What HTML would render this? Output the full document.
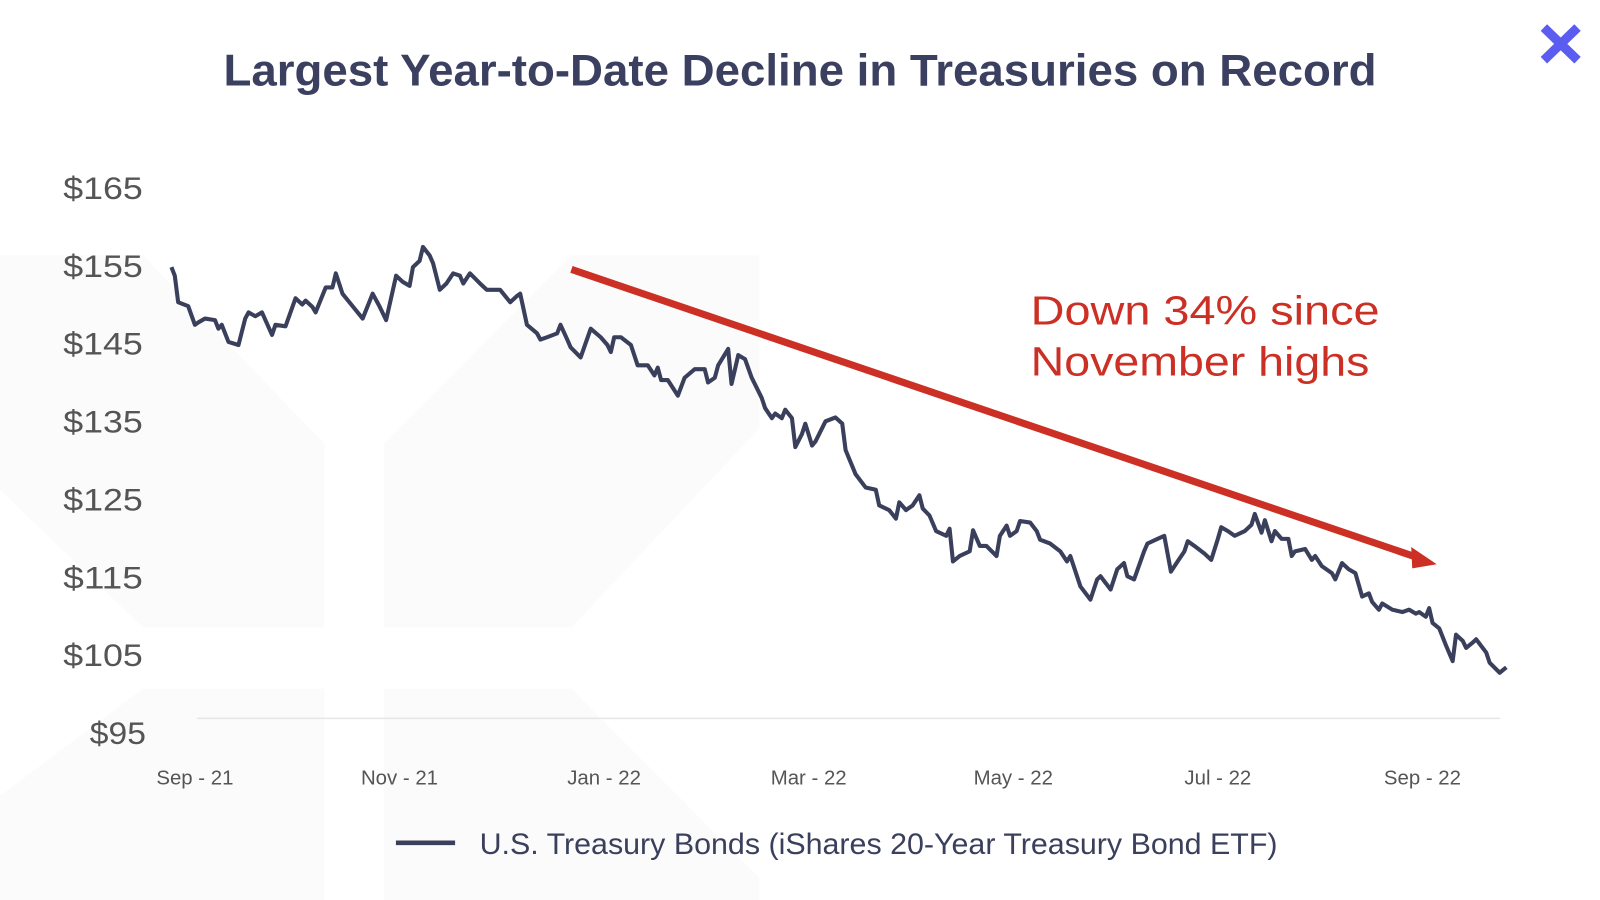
<!DOCTYPE html>
<html><head><meta charset="utf-8"><style>
html,body{margin:0;padding:0;background:#fff;}
svg{display:block;font-family:"Liberation Sans",sans-serif;}
</style></head><body>
<svg id="chart" width="1600" height="900" viewBox="0 0 1568 882" preserveAspectRatio="none" xmlns="http://www.w3.org/2000/svg">
<g fill="#fbfbfb">
<polygon points="0,250 140,250 318,435 318,615 140,615 0,480"/>
<polygon points="376,435 560,250 744,250 744,420 560,615 376,615"/>
<polygon points="0,780 140,675 318,675 318,882 0,882"/>
<polygon points="376,675 560,675 744,860 744,882 376,882"/>
</g>
<text x="784" y="84" text-anchor="middle" font-size="44" font-weight="600" fill="#3b4060" textLength="1130" lengthAdjust="spacingAndGlyphs">Largest Year-to-Date Decline in Treasuries on Record</text>
<g stroke="#5b5cf0" stroke-width="9">
<line x1="1513" y1="27" x2="1546" y2="59"/><line x1="1546" y1="27" x2="1513" y2="59"/>
</g>
<line x1="193" y1="704" x2="1470" y2="704" stroke="#e6e6e6" stroke-width="1.5"/>
<g id="yaxis"></g>
<g id="xaxis"></g>
<path id="series" fill="none" stroke="#3a3f5c" stroke-width="4" stroke-linejoin="round"/>
<g>
<line x1="560" y1="264" x2="1388" y2="546" stroke="#cc3025" stroke-width="7"/>
<polygon points="1408,553 1383,536 1384,557" fill="#cc3025"/>
</g>
<text font-size="40" fill="#cc3025"><tspan x="1010" y="318" textLength="342" lengthAdjust="spacingAndGlyphs">Down 34% since</tspan><tspan x="1010" y="368" textLength="332" lengthAdjust="spacingAndGlyphs">November highs</tspan></text>
<g>
<line x1="388" y1="826" x2="446" y2="826" stroke="#3a3f5c" stroke-width="4.5"/>
<text x="470" y="837" font-size="29" fill="#3a3f5c" textLength="782" lengthAdjust="spacingAndGlyphs">U.S. Treasury Bonds (iShares 20-Year Treasury Bond ETF)</text>
</g>
</svg>
<script>
const days=[0,1,2,5,7,8,10,13,14,15,17,20,22,23,25,27,30,31,34,37,39,40,42,43,46,48,49,51,54,57,60,62,64,67,69,71,72,74,75,77,78,80,82,84,86,87,89,92,94,98,101,103,104,106,109,110,112,115,116,118,119,122,125,128,130,131,132,134,137,139,142,144,145,146,148,151,153,156,159,160,162,163,166,167,169,171,173,176,177,179,180,182,183,185,186,188,189,191,192,195,198,200,201,204,207,210,211,214,216,217,219,221,223,224,226,228,231,232,233,235,238,239,241,243,246,247,249,250,252,253,256,258,259,262,265,267,268,271,274,276,277,280,282,284,285,287,290,291,294,296,298,300,302,303,305,308,310,312,313,315,317,319,320,322,323,325,326,328,329,331,333,334,335,338,340,341,343,346,347,349,351,353,355,357,358,360,361,364,367,369,371,372,374,375,376,378,380,382,383,385,386,388,389,392,393,396,398];
const prices=[154.8,153.7,150.3,149.8,147.4,147.7,148.2,148.0,146.9,147.4,145.2,144.8,148.2,149.0,148.5,149.0,146.1,147.4,147.2,150.8,150.0,150.5,149.7,149.0,152.2,152.2,154.0,151.4,149.8,148.2,151.4,149.8,148.0,153.7,152.9,152.4,154.8,155.6,157.4,156.3,155.3,151.9,152.7,154.0,153.7,152.7,154.0,152.7,151.9,151.9,150.3,151.1,151.4,147.4,146.3,145.5,145.8,146.3,147.4,145.5,144.5,143.2,146.9,145.8,144.8,143.9,145.8,145.8,144.8,142.2,142.2,140.9,141.9,140.3,140.3,138.3,140.6,141.7,141.7,140.0,140.6,142.2,144.3,139.8,143.5,143.0,140.6,138.0,136.7,135.4,136.0,135.4,136.5,135.4,131.7,133.4,134.7,131.9,132.4,135.0,135.5,134.7,131.3,128.2,126.5,126.2,124.2,123.6,122.5,124.6,123.6,124.2,125.5,123.8,122.9,120.9,120.3,121.2,117.0,117.7,118.3,121.0,119.0,119.0,117.7,120.3,121.6,120.3,120.9,122.2,122.0,120.9,119.8,119.3,118.3,117.0,117.7,113.8,112.1,114.7,115.1,113.4,116.0,116.8,115.1,114.7,118.3,119.3,119.9,120.3,115.7,117.0,118.3,119.6,119.0,118.0,117.2,119.9,121.4,120.9,120.3,120.7,120.9,121.7,123.1,120.7,122.3,119.6,120.9,119.9,119.9,117.7,118.3,118.6,117.2,117.7,116.4,115.5,114.7,116.8,116.0,115.5,112.5,112.9,111.8,110.8,111.6,110.8,110.5,110.8,110.3,110.5,109.9,111.0,109.1,108.4,106.2,104.2,107.6,106.8,105.9,106.6,107.0,105.3,104.0,102.7,103.4];
const yTicks=[165,155,145,135,125,115,105,95];
const xLabels=["Sep - 21","Nov - 21","Jan - 22","Mar - 22","May - 22","Jul - 22","Sep - 22"];
const NS="http://www.w3.org/2000/svg";
function xScale(d){return 168+d*3.287;}
function yScale(v){return 184+(165-v)*7.63;}
const ya=document.getElementById('yaxis');
yTicks.forEach((t)=>{
  const el=document.createElementNS(NS,'text');
  
  
  const lbl='$'+t;
  const w=lbl.length===4?78:55;
  el.setAttribute('x', t===95?88:62);
  el.setAttribute('y', yScale(t)+11);
  el.setAttribute('font-size','31');
  el.setAttribute('fill','#555');
  el.setAttribute('textLength', w);
  el.setAttribute('lengthAdjust','spacingAndGlyphs');
  el.textContent=lbl;
  ya.appendChild(el);
});
const xa=document.getElementById('xaxis');
xLabels.forEach((l,i)=>{
  const el=document.createElementNS(NS,'text');
  
  
  el.setAttribute('x',191+i*200.5);
  el.setAttribute('y',769);
  el.setAttribute('text-anchor','middle');
  el.setAttribute('font-size','20');
  el.setAttribute('fill','#555');
  el.textContent=l;
  xa.appendChild(el);
});
let d='';
prices.forEach((p,i)=>{d+=(i?'L':'M')+xScale(days[i]).toFixed(1)+','+yScale(p).toFixed(1);});
document.getElementById('series').setAttribute('d',d);
</script>
</body></html>
